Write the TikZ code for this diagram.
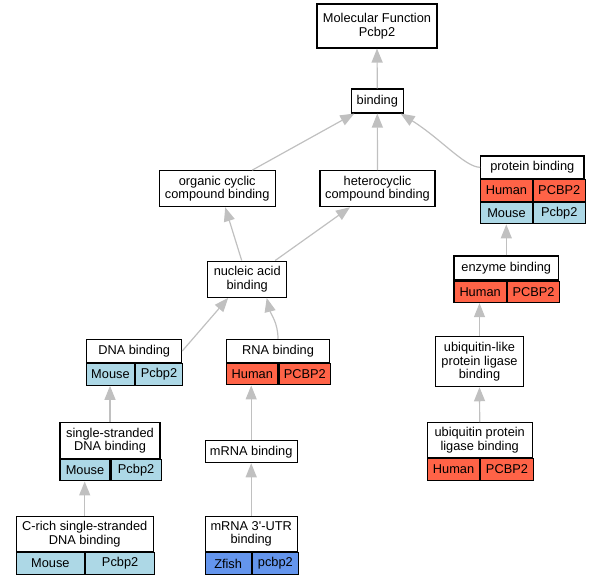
\documentclass[tikz,border=0pt]{standalone}
\usepackage{fontspec}
\setmainfont{Liberation Sans}
\usetikzlibrary{arrows.meta}
\usepackage{xcolor}
\definecolor{humanred}{RGB}{255,99,71}
\definecolor{mouseblue}{RGB}{173,216,230}
\definecolor{fishblue}{RGB}{100,149,237}
\definecolor{edgegray}{RGB}{192,192,192}

\begin{document}
\begin{tikzpicture}[x=1pt,y=-1pt,font=\fontsize{12.8}{13.6}\selectfont,>={Triangle[length=14pt,width=11pt]},
  term/.style={draw, fill=white, line width=1.1pt, align=center, inner sep=0pt},
  cell/.style={draw, line width=1.1pt, inner sep=0pt, minimum height=21.5, anchor=north west},
  human/.style={cell, fill=humanred},
  mouse/.style={cell, fill=mouseblue},
  zfish/.style={cell, fill=fishblue},
  isa/.style={draw=edgegray, line width=1.2pt, ->}]
\useasboundingbox (0,0) rectangle (599,584);

\node[term, minimum width=120, minimum height=44] (mf) at (377,26) {Molecular Function\\Pcbp2};
\node[term, minimum width=51.5, minimum height=24] (bind) at (377.3,101) {binding};
\node[term, minimum width=115.7, minimum height=36] (ocb) at (217.2,188.7) {organic cyclic\\compound binding};
\node[term, minimum width=115, minimum height=36] (hcb) at (377.5,188.7) {heterocyclic\\compound binding};

\node[term, minimum width=103.3, minimum height=22.7] (pb) at (532.3,167.3) {protein binding};
\node[human, minimum width=51.65] (pbH) at (pb.south west) {Human};
\node[human, minimum width=51.65] (pbHg) at (pbH.north east) {PCBP2};
\node[mouse, minimum width=51.65] (pbM) at (pbH.south west) {Mouse};
\node[mouse, minimum width=51.65] (pbMg) at (pbM.north east) {Pcbp2};

\node[term, minimum width=79, minimum height=36.3] (nab) at (247.2,279.2) {nucleic acid\\binding};

\node[term, minimum width=104.7, minimum height=24] (eb) at (506.3,268) {enzyme binding};
\node[human, minimum width=52.35] (ebH) at (eb.south west) {Human};
\node[human, minimum width=52.35] (ebHg) at (ebH.north east) {PCBP2};

\node[term, minimum width=95, minimum height=23.4] (dna) at (134.2,351) {DNA binding};
\node[mouse, minimum width=47.5] (dnaM) at (dna.south west) {Mouse};
\node[mouse, minimum width=47.5] (dnaMg) at (dnaM.north east) {Pcbp2};

\node[term, minimum width=102.6, minimum height=23] (rna) at (278,350.8) {RNA binding};
\node[human, minimum width=51.3] (rnaH) at (rna.south west) {Human};
\node[human, minimum width=51.3] (rnaHg) at (rnaH.north east) {PCBP2};

\node[term, minimum width=87.6, minimum height=50] (ubl) at (479.5,361.7) {ubiquitin-like\\protein ligase\\binding};

\node[term, minimum width=100, minimum height=35.6] (ss) at (110,440.5) {single-stranded\\DNA binding};
\node[mouse, minimum width=50] (ssM) at (ss.south west) {Mouse};
\node[mouse, minimum width=50] (ssMg) at (ssM.north east) {Pcbp2};

\node[term, minimum width=92.3, minimum height=22] (mrna) at (251.2,451.7) {mRNA binding};

\node[term, minimum width=104.7, minimum height=35] (upl) at (479.7,440.2) {ubiquitin protein\\ligase binding};
\node[human, minimum width=52.35] (uplH) at (upl.south west) {Human};
\node[human, minimum width=52.35] (uplHg) at (uplH.north east) {PCBP2};

\node[term, minimum width=137.3, minimum height=35.7] (cr) at (84.7,533.9) {C-rich single-stranded\\DNA binding};
\node[mouse, minimum width=68.65] (crM) at (cr.south west) {Mouse};
\node[mouse, minimum width=68.65] (crMg) at (crM.north east) {Pcbp2};

\node[term, minimum width=92.3, minimum height=35.7] (utr) at (251.2,533.9) {mRNA 3\textquotesingle-UTR\\binding};
\node[zfish, minimum width=46.15] (utrZ) at (utr.south west) {Zfish};
\node[zfish, minimum width=46.15] (utrZg) at (utrZ.north east) {pcbp2};

% is_a links, child -> parent
\draw[isa] (bind.north) -- (mf.south);
\draw[isa] ([xshift=35]ocb.north) -- ([xshift=-23]bind.south);
\draw[isa] (hcb.north) -- (bind.south);
\draw[isa] (pb.west) .. controls +(-15,0) and +(40,25) .. ([xshift=-3]bind.south east);
\draw[isa] ([xshift=-5.5]nab.north) -- ([xshift=8]ocb.south);
\draw[isa] ([xshift=28]nab.north) -- ([xshift=-27.5]hcb.south);
\draw[isa] (eb.north) -- (eb.north |- pbM.south);
\draw[isa] (dna.east) -- ([xshift=-19]nab.south);
\draw[isa] (rna.north) .. controls +(0,-16) and +(4,16) .. ([xshift=19.5]nab.south);
\draw[isa] (ubl.north) -- (ubl.north |- ebH.south);
\draw[isa] (upl.north) -- (ubl.south);
\draw[isa] (ss.north) -- (ss.north |- dnaM.south);
\draw[isa] (cr.north) -- (cr.north |- ssM.south);
\draw[isa] (mrna.north) -- (mrna.north |- rnaH.south);
\draw[isa] (utr.north) -- (mrna.south);
\end{tikzpicture}
\end{document}
